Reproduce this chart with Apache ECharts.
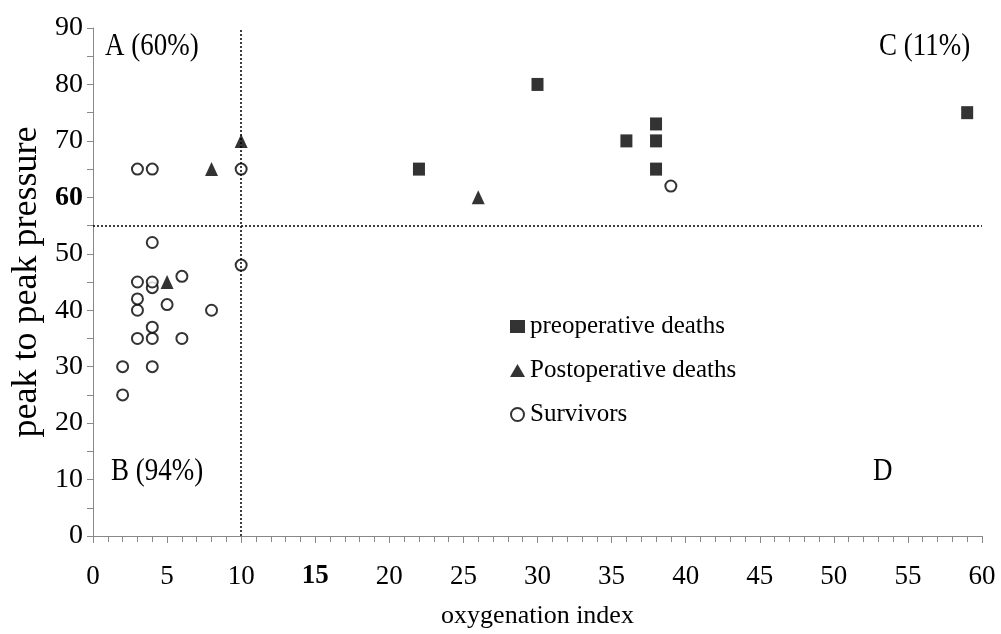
<!DOCTYPE html>
<html>
<head>
<meta charset="utf-8">
<script src="https://cdn.jsdelivr.net/npm/echarts@6/dist/echarts.min.js"></script>
<style>
  html, body { margin: 0; padding: 0; background: #fff; }
  #chart { width: 1001px; height: 634px; }
</style>
</head>
<body>
<div id="chart"></div>
<script>
// Oxygenation index (x) vs peak-to-peak pressure (y), by outcome group
const seriesNames = ['preoperative deaths', 'Postoperative deaths', 'Survivors'];

const preoperativeDeaths = [
  [22, 65], [30, 80], [36, 70], [38, 73], [38, 70], [38, 65], [59, 75]
];
const postoperativeDeaths = [
  [5, 45], [8, 65], [10, 70], [26, 60]
];
const survivors = [
  [2, 25], [2, 30], [3, 35], [3, 40], [3, 42], [3, 45], [3, 65],
  [4, 30], [4, 35], [4, 37], [4, 44], [4, 45], [4, 52], [4, 65],
  [5, 41], [6, 35], [6, 46], [8, 40], [10, 48], [10, 65], [39, 62]
];

// Quadrant thresholds
const oxygenationCut = 10;
const pressureCut = 55;

// Quadrant labels
const quadrantLabels = ['A (60%)', 'B (94%)', 'C (11%)', 'D'];

const xAxisName = 'oxygenation index';
const yAxisName = 'peak to peak pressure';

const serif = '"Liberation Serif", "DejaVu Serif", serif';

const chart = echarts.init(document.getElementById('chart'));

// Quadrant caption: tall serif text anchored at its left-middle point
function caption(text, x, y) {
  return {
    type: 'text', x: x, y: y, scaleY: 1.15,
    style: { text: text, font: '27px ' + serif, fill: '#000', textAlign: 'left', textVerticalAlign: 'middle' }
  };
}

chart.setOption({
  backgroundColor: '#fff',
  animation: false,
  grid: { left: 93, right: 19, top: 28, bottom: 94, containLabel: false },
  xAxis: {
    type: 'value',
    min: 0, max: 60, interval: 5,
    name: xAxisName,
    nameLocation: 'middle',
    nameGap: 67,
    nameTextStyle: { fontFamily: serif, fontSize: 26, color: '#000' },
    axisLine: { lineStyle: { color: '#888', width: 1 } },
    axisTick: { show: true, length: 7, lineStyle: { color: '#888' } },
    minorTick: { show: true, splitNumber: 5, length: 6, lineStyle: { color: '#888' } },
    splitLine: { show: false },
    axisLabel: {
      margin: 27,
      fontFamily: serif, fontSize: 27, color: '#000',
      formatter: v => v === 15 ? '{b|15}' : String(v),
      rich: { b: { fontFamily: serif, fontSize: 27, fontWeight: 'bold', color: '#000' } }
    }
  },
  yAxis: {
    type: 'value',
    min: 0, max: 90, interval: 10,
    name: yAxisName,
    nameLocation: 'middle',
    nameGap: 41,
    nameTextStyle: { fontFamily: serif, fontSize: 36, color: '#000' },
    axisLine: { show: true, lineStyle: { color: '#888', width: 1 } },
    axisTick: { show: true, length: 6, lineStyle: { color: '#888' } },
    minorTick: { show: true, splitNumber: 2, length: 6, lineStyle: { color: '#888' } },
    splitLine: { show: false },
    axisLabel: {
      margin: 10,
      fontFamily: serif, fontSize: 28, color: '#000',
      formatter: v => v === 60 ? '{b|60}' : String(v),
      rich: { b: { fontFamily: serif, fontSize: 28, fontWeight: 'bold', color: '#000' } }
    }
  },
  legend: {
    orient: 'vertical',
    left: 505,
    top: 309,
    itemGap: 19,
    itemWidth: 15,
    itemHeight: 13,
    textStyle: { fontFamily: serif, fontSize: 25, color: '#000' },
    data: [
      { name: seriesNames[0], icon: 'rect' },
      { name: seriesNames[1], icon: 'triangle' },
      { name: seriesNames[2], icon: 'circle', itemStyle: { color: '#fff', borderColor: '#000', borderWidth: 2 } }
    ]
  },
  series: [
    {
      name: seriesNames[0],
      type: 'scatter',
      symbol: 'rect',
      symbolSize: [12, 13],
      itemStyle: { color: '#000' },
      data: preoperativeDeaths,
      markLine: {
        silent: true,
        symbol: ['none', 'none'],
        label: { show: false },
        lineStyle: { color: '#000', type: [2, 2], width: 1.5 },
        data: [
          [{ coord: [oxygenationCut, 0] }, { coord: [oxygenationCut, 90] }],
          [{ coord: [0, pressureCut] }, { coord: [60, pressureCut] }]
        ]
      }
    },
    {
      name: seriesNames[1],
      type: 'scatter',
      symbol: 'triangle',
      symbolSize: [13, 14],
      itemStyle: { color: '#000' },
      data: postoperativeDeaths
    },
    {
      name: seriesNames[2],
      type: 'scatter',
      symbol: 'circle',
      symbolSize: 11,
      itemStyle: { color: '#fff', borderColor: '#000', borderWidth: 2 },
      data: survivors
    }
  ],
  graphic: [
    caption(quadrantLabels[0], 105, 47),
    caption(quadrantLabels[1], 111, 472),
    caption(quadrantLabels[2], 879, 47),
    caption(quadrantLabels[3], 873, 472)
  ]
});
</script>
</body>
</html>
